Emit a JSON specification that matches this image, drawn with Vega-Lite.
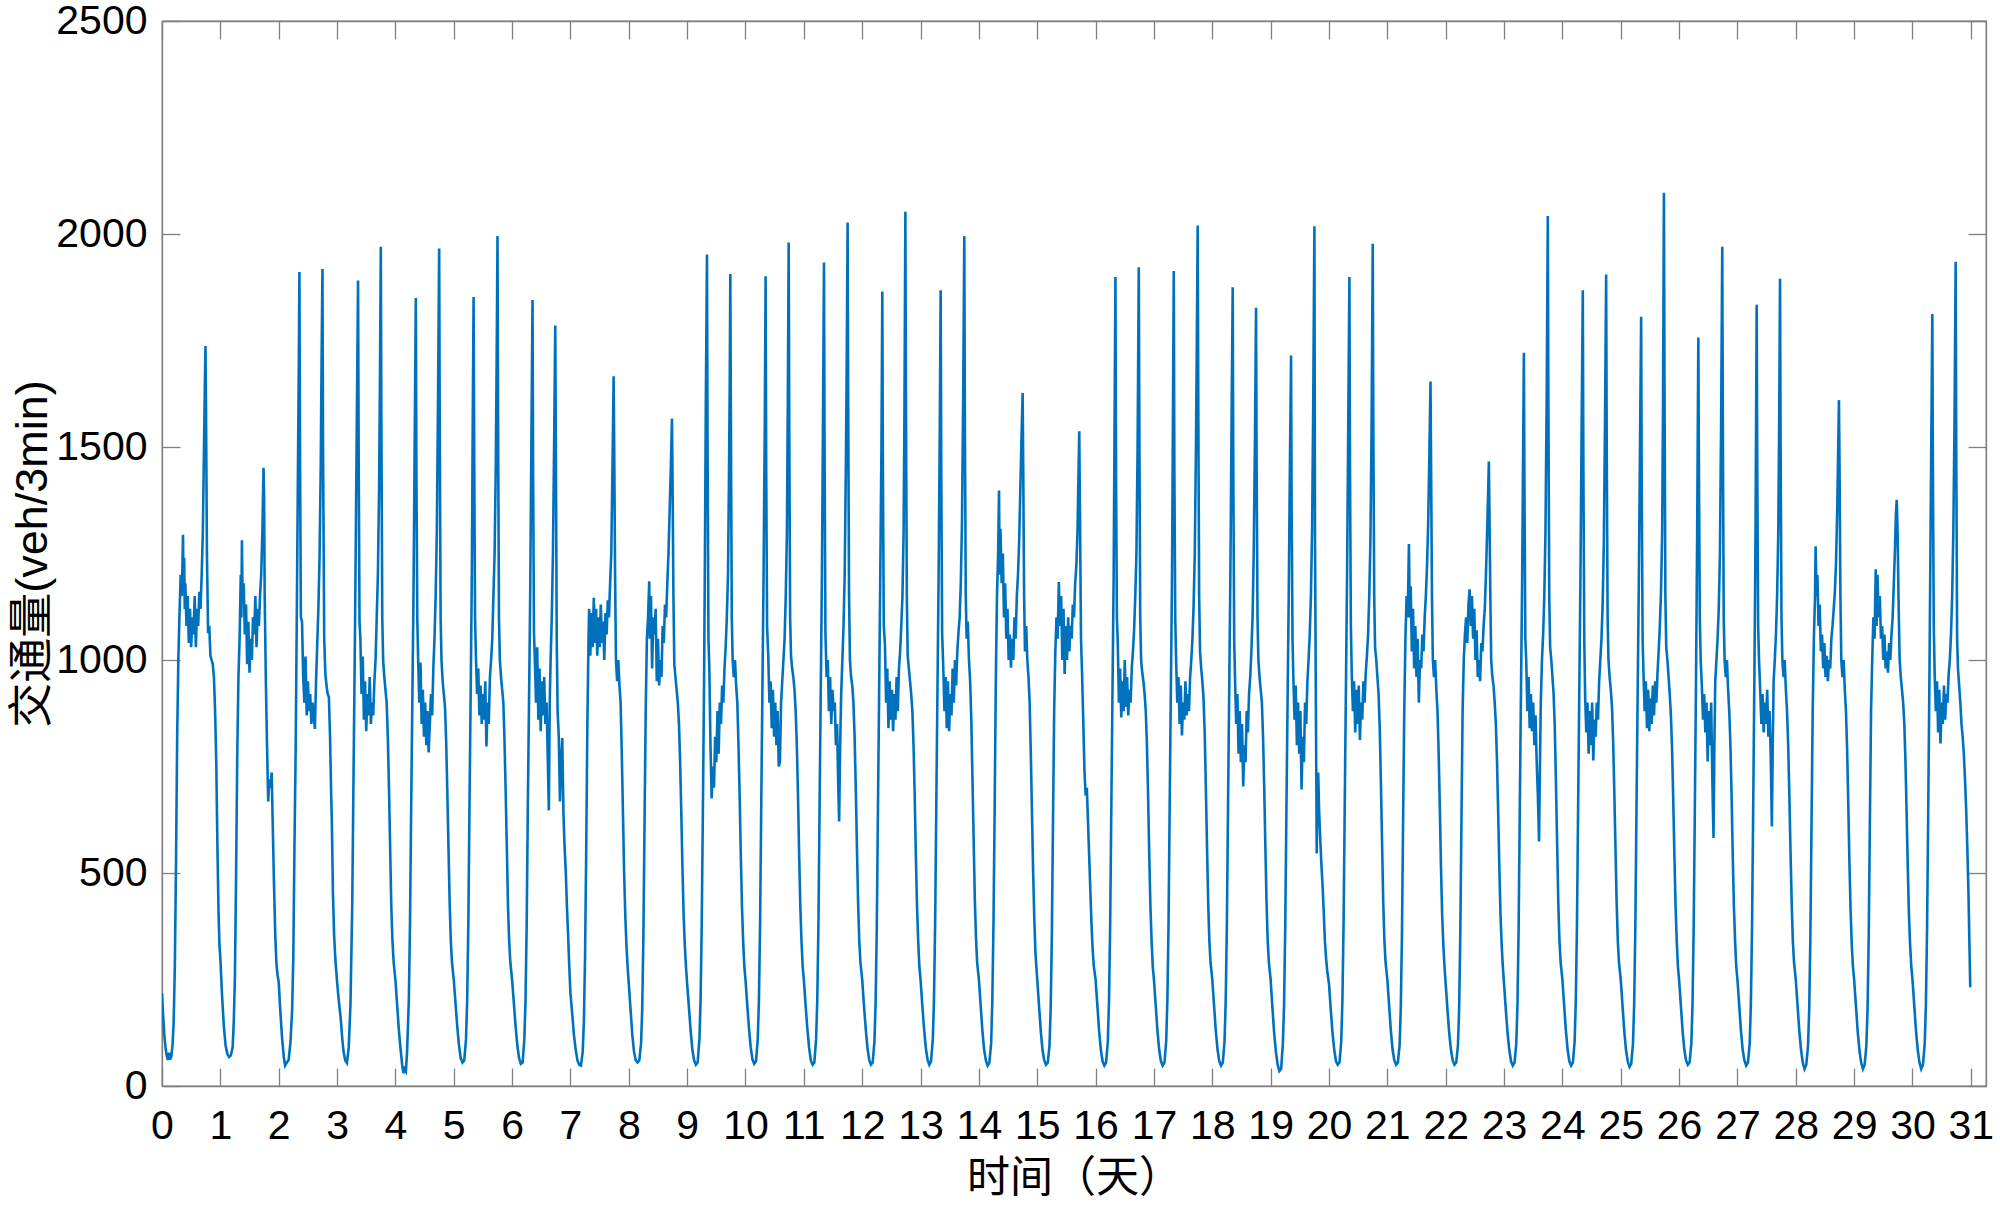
{
"$schema":"https://vega.github.io/schema/vega-lite/v6.json",
"width":1824,"height":1065,
"autosize":{"type":"none"},
"padding":{"left":162,"top":21,"right":14,"bottom":120},
"background":"white",
"config":{
"view":{"stroke":"#808080","strokeWidth":1.3},
"axis":{"domainColor":"#808080","domainWidth":1.3,"tickColor":"#808080","tickWidth":1.3,"labelFont":"Liberation Sans","labelFontSize":41,"labelColor":"#000000","titleFont":"Liberation Sans, Noto Sans CJK SC","titleFontSize":43,"titleColor":"#000000","titleFontWeight":"normal","grid":false}
},
"data":{"values":[
{"t":0,"v":218},{"t":0.02,"v":165},{"t":0.04,"v":120},{"t":0.06,"v":90},{"t":0.08,"v":72},{"t":0.1,"v":61},{"t":0.12,"v":78},{"t":0.14,"v":62},{"t":0.16,"v":70},{"t":0.18,"v":95},{"t":0.2,"v":150},{"t":0.22,"v":280},{"t":0.24,"v":520},{"t":0.26,"v":820},{"t":0.28,"v":1000},{"t":0.3,"v":1110},{"t":0.32,"v":1200},{"t":0.34,"v":1150},{"t":0.36,"v":1294},{"t":0.37,"v":1160},{"t":0.38,"v":1240},{"t":0.39,"v":1120},{"t":0.4,"v":1180},{"t":0.42,"v":1080},{"t":0.44,"v":1150},{"t":0.46,"v":1040},{"t":0.48,"v":1120},{"t":0.5,"v":1030},{"t":0.52,"v":1100},{"t":0.54,"v":1060},{"t":0.56,"v":1150},{"t":0.58,"v":1030},{"t":0.6,"v":1120},{"t":0.62,"v":1080},{"t":0.64,"v":1160},{"t":0.66,"v":1120},{"t":0.68,"v":1200},{"t":0.7,"v":1300},{"t":0.72,"v":1500},{"t":0.735,"v":1650},{"t":0.745,"v":1737},{"t":0.755,"v":1580},{"t":0.77,"v":1250},{"t":0.79,"v":1063},{"t":0.81,"v":1080},{"t":0.83,"v":1010},{"t":0.85,"v":1000},{"t":0.87,"v":990},{"t":0.89,"v":960},{"t":0.91,"v":880},{"t":0.93,"v":760},{"t":0.95,"v":560},{"t":0.97,"v":400},{"t":0.985,"v":330},
{"t":1,"v":300},{"t":1.03,"v":210},{"t":1.06,"v":140},{"t":1.09,"v":95},{"t":1.12,"v":75},{"t":1.15,"v":68},{"t":1.18,"v":72},{"t":1.21,"v":90},{"t":1.23,"v":150},{"t":1.25,"v":260},{"t":1.27,"v":500},{"t":1.29,"v":780},{"t":1.31,"v":960},{"t":1.33,"v":1050},{"t":1.35,"v":1200},{"t":1.36,"v":1100},{"t":1.37,"v":1281},{"t":1.38,"v":1150},{"t":1.4,"v":1180},{"t":1.42,"v":1060},{"t":1.44,"v":1130},{"t":1.46,"v":990},{"t":1.48,"v":1090},{"t":1.5,"v":970},{"t":1.52,"v":1050},{"t":1.54,"v":1000},{"t":1.56,"v":1100},{"t":1.58,"v":1060},{"t":1.6,"v":1150},{"t":1.62,"v":1030},{"t":1.64,"v":1120},{"t":1.66,"v":1080},{"t":1.68,"v":1150},{"t":1.7,"v":1200},{"t":1.72,"v":1300},{"t":1.74,"v":1451},{"t":1.75,"v":1380},{"t":1.76,"v":1150},{"t":1.78,"v":950},{"t":1.8,"v":800},{"t":1.82,"v":668},{"t":1.84,"v":720},{"t":1.86,"v":700},{"t":1.88,"v":736},{"t":1.9,"v":600},{"t":1.92,"v":470},{"t":1.94,"v":360},{"t":1.96,"v":290},{"t":1.98,"v":260},
{"t":2,"v":245},{"t":2.03,"v":170},{"t":2.06,"v":109},{"t":2.09,"v":65},{"t":2.11,"v":48},{"t":2.14,"v":55},{"t":2.17,"v":61},{"t":2.2,"v":100},{"t":2.23,"v":177},{"t":2.25,"v":300},{"t":2.27,"v":560},{"t":2.29,"v":780},{"t":2.31,"v":1100},{"t":2.33,"v":1450},{"t":2.345,"v":1700},{"t":2.355,"v":1911},{"t":2.365,"v":1500},{"t":2.38,"v":1100},{"t":2.4,"v":1090},{"t":2.42,"v":960},{"t":2.44,"v":900},{"t":2.46,"v":1008},{"t":2.48,"v":870},{"t":2.5,"v":950},{"t":2.52,"v":880},{"t":2.54,"v":920},{"t":2.56,"v":850},{"t":2.58,"v":900},{"t":2.6,"v":870},{"t":2.62,"v":838},{"t":2.64,"v":950},{"t":2.66,"v":1035},{"t":2.68,"v":1120},{"t":2.7,"v":1240},{"t":2.72,"v":1450},{"t":2.735,"v":1700},{"t":2.75,"v":1918},{"t":2.76,"v":1500},{"t":2.78,"v":1050},{"t":2.8,"v":967},{"t":2.82,"v":940},{"t":2.84,"v":920},{"t":2.86,"v":913},{"t":2.88,"v":820},{"t":2.9,"v":680},{"t":2.91,"v":627},{"t":2.93,"v":450},{"t":2.95,"v":354},{"t":2.97,"v":300},
{"t":3,"v":245},{"t":3.03,"v":200},{"t":3.06,"v":163},{"t":3.09,"v":110},{"t":3.11,"v":82},{"t":3.14,"v":60},{"t":3.17,"v":54},{"t":3.2,"v":90},{"t":3.23,"v":191},{"t":3.26,"v":422},{"t":3.29,"v":831},{"t":3.31,"v":1104},{"t":3.34,"v":1580},{"t":3.36,"v":1891},{"t":3.37,"v":1500},{"t":3.385,"v":1090},{"t":3.4,"v":1050},{"t":3.42,"v":920},{"t":3.44,"v":1008},{"t":3.46,"v":860},{"t":3.48,"v":950},{"t":3.5,"v":833},{"t":3.52,"v":920},{"t":3.54,"v":870},{"t":3.56,"v":960},{"t":3.58,"v":850},{"t":3.6,"v":900},{"t":3.62,"v":870},{"t":3.64,"v":950},{"t":3.66,"v":1000},{"t":3.68,"v":1100},{"t":3.7,"v":1200},{"t":3.72,"v":1400},{"t":3.735,"v":1650},{"t":3.75,"v":1970},{"t":3.76,"v":1550},{"t":3.775,"v":1100},{"t":3.79,"v":1000},{"t":3.81,"v":960},{"t":3.83,"v":930},{"t":3.85,"v":900},{"t":3.87,"v":820},{"t":3.89,"v":700},{"t":3.91,"v":560},{"t":3.93,"v":420},{"t":3.95,"v":340},{"t":3.97,"v":290},
{"t":4,"v":250},{"t":4.03,"v":190},{"t":4.06,"v":130},{"t":4.09,"v":85},{"t":4.12,"v":45},{"t":4.14,"v":30},{"t":4.16,"v":40},{"t":4.18,"v":35},{"t":4.2,"v":80},{"t":4.23,"v":200},{"t":4.25,"v":380},{"t":4.27,"v":650},{"t":4.29,"v":900},{"t":4.31,"v":1150},{"t":4.33,"v":1500},{"t":4.35,"v":1850},{"t":4.36,"v":1450},{"t":4.375,"v":1100},{"t":4.39,"v":1000},{"t":4.41,"v":900},{"t":4.43,"v":994},{"t":4.45,"v":850},{"t":4.47,"v":930},{"t":4.49,"v":820},{"t":4.51,"v":900},{"t":4.53,"v":800},{"t":4.55,"v":880},{"t":4.57,"v":783},{"t":4.59,"v":850},{"t":4.61,"v":920},{"t":4.63,"v":870},{"t":4.65,"v":980},{"t":4.67,"v":1050},{"t":4.69,"v":1150},{"t":4.71,"v":1300},{"t":4.73,"v":1600},{"t":4.75,"v":1966},{"t":4.76,"v":1550},{"t":4.775,"v":1100},{"t":4.79,"v":1000},{"t":4.81,"v":950},{"t":4.83,"v":920},{"t":4.85,"v":890},{"t":4.87,"v":810},{"t":4.89,"v":690},{"t":4.91,"v":560},{"t":4.93,"v":430},{"t":4.95,"v":340},{"t":4.97,"v":290},
{"t":5,"v":250},{"t":5.03,"v":195},{"t":5.06,"v":140},{"t":5.09,"v":95},{"t":5.12,"v":65},{"t":5.15,"v":55},{"t":5.18,"v":60},{"t":5.21,"v":110},{"t":5.23,"v":200},{"t":5.25,"v":380},{"t":5.27,"v":660},{"t":5.29,"v":920},{"t":5.31,"v":1200},{"t":5.325,"v":1550},{"t":5.34,"v":1852},{"t":5.35,"v":1500},{"t":5.365,"v":1100},{"t":5.38,"v":1008},{"t":5.4,"v":920},{"t":5.42,"v":980},{"t":5.44,"v":870},{"t":5.46,"v":940},{"t":5.48,"v":850},{"t":5.5,"v":920},{"t":5.52,"v":860},{"t":5.54,"v":950},{"t":5.56,"v":797},{"t":5.58,"v":900},{"t":5.6,"v":850},{"t":5.62,"v":960},{"t":5.64,"v":1000},{"t":5.66,"v":1050},{"t":5.68,"v":1150},{"t":5.7,"v":1250},{"t":5.72,"v":1450},{"t":5.735,"v":1700},{"t":5.75,"v":1995},{"t":5.76,"v":1550},{"t":5.775,"v":1100},{"t":5.79,"v":1000},{"t":5.81,"v":960},{"t":5.83,"v":930},{"t":5.85,"v":900},{"t":5.87,"v":810},{"t":5.89,"v":690},{"t":5.91,"v":560},{"t":5.93,"v":420},{"t":5.95,"v":340},{"t":5.97,"v":290},
{"t":6,"v":250},{"t":6.03,"v":195},{"t":6.06,"v":140},{"t":6.09,"v":95},{"t":6.12,"v":65},{"t":6.15,"v":52},{"t":6.18,"v":55},{"t":6.21,"v":110},{"t":6.23,"v":200},{"t":6.25,"v":380},{"t":6.27,"v":660},{"t":6.29,"v":900},{"t":6.31,"v":1150},{"t":6.33,"v":1500},{"t":6.35,"v":1845},{"t":6.36,"v":1450},{"t":6.375,"v":1064},{"t":6.39,"v":1000},{"t":6.41,"v":900},{"t":6.43,"v":1030},{"t":6.45,"v":860},{"t":6.47,"v":980},{"t":6.49,"v":833},{"t":6.51,"v":950},{"t":6.53,"v":870},{"t":6.55,"v":960},{"t":6.57,"v":850},{"t":6.59,"v":900},{"t":6.61,"v":780},{"t":6.63,"v":647},{"t":6.645,"v":900},{"t":6.66,"v":1000},{"t":6.68,"v":1100},{"t":6.7,"v":1250},{"t":6.72,"v":1500},{"t":6.74,"v":1785},{"t":6.75,"v":1500},{"t":6.765,"v":1050},{"t":6.78,"v":880},{"t":6.8,"v":820},{"t":6.82,"v":668},{"t":6.84,"v":760},{"t":6.86,"v":817},{"t":6.88,"v":640},{"t":6.9,"v":560},{"t":6.92,"v":504},{"t":6.94,"v":420},{"t":6.96,"v":354},{"t":6.98,"v":280},
{"t":7,"v":218},{"t":7.03,"v":170},{"t":7.06,"v":120},{"t":7.09,"v":85},{"t":7.12,"v":60},{"t":7.15,"v":50},{"t":7.18,"v":48},{"t":7.21,"v":80},{"t":7.23,"v":150},{"t":7.25,"v":300},{"t":7.27,"v":550},{"t":7.29,"v":850},{"t":7.31,"v":1050},{"t":7.32,"v":1120},{"t":7.34,"v":1010},{"t":7.36,"v":1110},{"t":7.38,"v":1030},{"t":7.4,"v":1146},{"t":7.42,"v":1040},{"t":7.44,"v":1120},{"t":7.46,"v":1010},{"t":7.48,"v":1100},{"t":7.5,"v":1030},{"t":7.52,"v":1130},{"t":7.54,"v":1040},{"t":7.56,"v":1090},{"t":7.58,"v":1000},{"t":7.6,"v":1110},{"t":7.62,"v":1060},{"t":7.64,"v":1140},{"t":7.66,"v":1100},{"t":7.68,"v":1180},{"t":7.7,"v":1250},{"t":7.715,"v":1400},{"t":7.73,"v":1550},{"t":7.74,"v":1666},{"t":7.75,"v":1500},{"t":7.765,"v":1200},{"t":7.78,"v":1000},{"t":7.8,"v":950},{"t":7.82,"v":1000},{"t":7.84,"v":940},{"t":7.86,"v":900},{"t":7.88,"v":780},{"t":7.9,"v":640},{"t":7.92,"v":500},{"t":7.94,"v":400},{"t":7.96,"v":330},{"t":7.98,"v":280},
{"t":8,"v":240},{"t":8.03,"v":180},{"t":8.06,"v":120},{"t":8.09,"v":80},{"t":8.12,"v":60},{"t":8.15,"v":55},{"t":8.18,"v":60},{"t":8.21,"v":100},{"t":8.23,"v":180},{"t":8.25,"v":350},{"t":8.27,"v":620},{"t":8.29,"v":880},{"t":8.31,"v":1050},{"t":8.33,"v":1100},{"t":8.35,"v":1185},{"t":8.36,"v":1050},{"t":8.38,"v":1150},{"t":8.4,"v":980},{"t":8.42,"v":1100},{"t":8.44,"v":1060},{"t":8.46,"v":1120},{"t":8.48,"v":950},{"t":8.5,"v":1050},{"t":8.52,"v":940},{"t":8.54,"v":1000},{"t":8.56,"v":960},{"t":8.58,"v":1080},{"t":8.6,"v":1040},{"t":8.62,"v":1130},{"t":8.64,"v":1100},{"t":8.66,"v":1180},{"t":8.68,"v":1250},{"t":8.7,"v":1350},{"t":8.72,"v":1450},{"t":8.74,"v":1567},{"t":8.75,"v":1420},{"t":8.765,"v":1150},{"t":8.78,"v":990},{"t":8.8,"v":960},{"t":8.82,"v":930},{"t":8.84,"v":900},{"t":8.86,"v":850},{"t":8.88,"v":760},{"t":8.9,"v":640},{"t":8.92,"v":510},{"t":8.94,"v":400},{"t":8.96,"v":330},{"t":8.98,"v":280},
{"t":9,"v":240},{"t":9.03,"v":185},{"t":9.06,"v":130},{"t":9.09,"v":85},{"t":9.12,"v":60},{"t":9.15,"v":50},{"t":9.18,"v":55},{"t":9.21,"v":110},{"t":9.23,"v":200},{"t":9.25,"v":380},{"t":9.27,"v":650},{"t":9.29,"v":950},{"t":9.305,"v":1250},{"t":9.32,"v":1600},{"t":9.34,"v":1952},{"t":9.35,"v":1500},{"t":9.365,"v":1050},{"t":9.38,"v":982},{"t":9.4,"v":800},{"t":9.42,"v":675},{"t":9.44,"v":750},{"t":9.46,"v":700},{"t":9.48,"v":820},{"t":9.5,"v":760},{"t":9.52,"v":880},{"t":9.54,"v":780},{"t":9.56,"v":900},{"t":9.58,"v":850},{"t":9.6,"v":940},{"t":9.62,"v":900},{"t":9.64,"v":980},{"t":9.66,"v":1030},{"t":9.68,"v":1100},{"t":9.7,"v":1200},{"t":9.715,"v":1400},{"t":9.73,"v":1650},{"t":9.74,"v":1906},{"t":9.75,"v":1550},{"t":9.765,"v":1100},{"t":9.78,"v":1000},{"t":9.8,"v":960},{"t":9.82,"v":1000},{"t":9.84,"v":940},{"t":9.86,"v":900},{"t":9.88,"v":800},{"t":9.9,"v":680},{"t":9.92,"v":540},{"t":9.94,"v":420},{"t":9.96,"v":340},{"t":9.98,"v":280},
{"t":10,"v":250},{"t":10.03,"v":190},{"t":10.06,"v":135},{"t":10.09,"v":90},{"t":10.12,"v":62},{"t":10.15,"v":52},{"t":10.18,"v":58},{"t":10.21,"v":110},{"t":10.23,"v":200},{"t":10.25,"v":380},{"t":10.27,"v":660},{"t":10.29,"v":930},{"t":10.31,"v":1200},{"t":10.33,"v":1550},{"t":10.345,"v":1901},{"t":10.355,"v":1450},{"t":10.37,"v":1080},{"t":10.39,"v":1010},{"t":10.41,"v":900},{"t":10.43,"v":950},{"t":10.45,"v":840},{"t":10.47,"v":930},{"t":10.49,"v":820},{"t":10.51,"v":900},{"t":10.53,"v":800},{"t":10.55,"v":880},{"t":10.57,"v":750},{"t":10.59,"v":760},{"t":10.61,"v":900},{"t":10.63,"v":950},{"t":10.65,"v":1000},{"t":10.67,"v":1050},{"t":10.69,"v":1150},{"t":10.71,"v":1300},{"t":10.725,"v":1600},{"t":10.74,"v":1980},{"t":10.75,"v":1550},{"t":10.765,"v":1100},{"t":10.78,"v":1010},{"t":10.8,"v":980},{"t":10.82,"v":960},{"t":10.84,"v":930},{"t":10.86,"v":880},{"t":10.88,"v":800},{"t":10.9,"v":680},{"t":10.92,"v":540},{"t":10.94,"v":420},{"t":10.96,"v":340},{"t":10.98,"v":280},
{"t":11,"v":250},{"t":11.03,"v":190},{"t":11.06,"v":135},{"t":11.09,"v":90},{"t":11.12,"v":60},{"t":11.15,"v":50},{"t":11.18,"v":55},{"t":11.21,"v":110},{"t":11.23,"v":200},{"t":11.25,"v":380},{"t":11.27,"v":660},{"t":11.29,"v":930},{"t":11.31,"v":1200},{"t":11.33,"v":1600},{"t":11.345,"v":1933},{"t":11.355,"v":1500},{"t":11.37,"v":1064},{"t":11.39,"v":960},{"t":11.41,"v":1000},{"t":11.43,"v":880},{"t":11.45,"v":960},{"t":11.47,"v":850},{"t":11.49,"v":930},{"t":11.51,"v":880},{"t":11.53,"v":900},{"t":11.55,"v":800},{"t":11.57,"v":850},{"t":11.59,"v":700},{"t":11.605,"v":621},{"t":11.62,"v":780},{"t":11.64,"v":920},{"t":11.66,"v":1000},{"t":11.68,"v":1080},{"t":11.7,"v":1200},{"t":11.72,"v":1450},{"t":11.735,"v":1700},{"t":11.75,"v":2027},{"t":11.76,"v":1600},{"t":11.775,"v":1150},{"t":11.79,"v":1000},{"t":11.81,"v":960},{"t":11.83,"v":940},{"t":11.85,"v":900},{"t":11.87,"v":820},{"t":11.89,"v":700},{"t":11.91,"v":560},{"t":11.93,"v":430},{"t":11.95,"v":340},{"t":11.97,"v":290},
{"t":12,"v":250},{"t":12.03,"v":190},{"t":12.06,"v":135},{"t":12.09,"v":90},{"t":12.12,"v":62},{"t":12.15,"v":50},{"t":12.18,"v":55},{"t":12.21,"v":105},{"t":12.23,"v":195},{"t":12.25,"v":370},{"t":12.27,"v":650},{"t":12.29,"v":920},{"t":12.31,"v":1200},{"t":12.33,"v":1500},{"t":12.345,"v":1865},{"t":12.355,"v":1450},{"t":12.37,"v":1080},{"t":12.39,"v":1037},{"t":12.41,"v":900},{"t":12.43,"v":980},{"t":12.45,"v":840},{"t":12.47,"v":950},{"t":12.49,"v":860},{"t":12.51,"v":930},{"t":12.53,"v":833},{"t":12.55,"v":920},{"t":12.57,"v":860},{"t":12.59,"v":960},{"t":12.61,"v":880},{"t":12.63,"v":980},{"t":12.65,"v":1020},{"t":12.67,"v":1080},{"t":12.69,"v":1150},{"t":12.71,"v":1300},{"t":12.725,"v":1600},{"t":12.74,"v":2052},{"t":12.75,"v":1600},{"t":12.765,"v":1150},{"t":12.78,"v":1010},{"t":12.8,"v":980},{"t":12.82,"v":950},{"t":12.84,"v":920},{"t":12.86,"v":880},{"t":12.88,"v":800},{"t":12.9,"v":680},{"t":12.92,"v":540},{"t":12.94,"v":420},{"t":12.96,"v":340},{"t":12.98,"v":280},
{"t":13,"v":250},{"t":13.03,"v":190},{"t":13.06,"v":135},{"t":13.09,"v":90},{"t":13.12,"v":62},{"t":13.15,"v":50},{"t":13.18,"v":58},{"t":13.21,"v":110},{"t":13.23,"v":200},{"t":13.25,"v":380},{"t":13.27,"v":660},{"t":13.29,"v":930},{"t":13.31,"v":1200},{"t":13.33,"v":1550},{"t":13.345,"v":1868},{"t":13.355,"v":1450},{"t":13.37,"v":1064},{"t":13.39,"v":980},{"t":13.41,"v":880},{"t":13.43,"v":960},{"t":13.45,"v":840},{"t":13.47,"v":950},{"t":13.49,"v":833},{"t":13.51,"v":920},{"t":13.53,"v":870},{"t":13.55,"v":980},{"t":13.57,"v":900},{"t":13.59,"v":1000},{"t":13.61,"v":940},{"t":13.63,"v":1020},{"t":13.65,"v":1064},{"t":13.67,"v":1100},{"t":13.69,"v":1180},{"t":13.71,"v":1320},{"t":13.73,"v":1600},{"t":13.75,"v":1995},{"t":13.76,"v":1550},{"t":13.775,"v":1150},{"t":13.79,"v":1050},{"t":13.81,"v":1090},{"t":13.83,"v":1000},{"t":13.85,"v":950},{"t":13.87,"v":860},{"t":13.89,"v":720},{"t":13.91,"v":580},{"t":13.93,"v":440},{"t":13.95,"v":350},{"t":13.97,"v":290},
{"t":14,"v":250},{"t":14.03,"v":190},{"t":14.06,"v":130},{"t":14.09,"v":85},{"t":14.12,"v":60},{"t":14.15,"v":48},{"t":14.18,"v":55},{"t":14.21,"v":100},{"t":14.23,"v":200},{"t":14.25,"v":380},{"t":14.27,"v":650},{"t":14.29,"v":950},{"t":14.31,"v":1150},{"t":14.33,"v":1250},{"t":14.345,"v":1398},{"t":14.355,"v":1200},{"t":14.37,"v":1308},{"t":14.39,"v":1180},{"t":14.41,"v":1250},{"t":14.43,"v":1100},{"t":14.45,"v":1180},{"t":14.47,"v":1050},{"t":14.49,"v":1120},{"t":14.51,"v":1000},{"t":14.53,"v":1060},{"t":14.55,"v":982},{"t":14.57,"v":1050},{"t":14.59,"v":1000},{"t":14.61,"v":1100},{"t":14.63,"v":1050},{"t":14.65,"v":1150},{"t":14.67,"v":1200},{"t":14.69,"v":1280},{"t":14.71,"v":1400},{"t":14.73,"v":1520},{"t":14.75,"v":1627},{"t":14.76,"v":1450},{"t":14.775,"v":1150},{"t":14.79,"v":1020},{"t":14.81,"v":1080},{"t":14.83,"v":1000},{"t":14.85,"v":960},{"t":14.87,"v":900},{"t":14.89,"v":780},{"t":14.91,"v":640},{"t":14.93,"v":500},{"t":14.95,"v":390},{"t":14.97,"v":310},
{"t":15,"v":250},{"t":15.03,"v":190},{"t":15.06,"v":130},{"t":15.09,"v":85},{"t":15.12,"v":60},{"t":15.15,"v":50},{"t":15.18,"v":55},{"t":15.21,"v":95},{"t":15.23,"v":180},{"t":15.25,"v":350},{"t":15.27,"v":620},{"t":15.29,"v":880},{"t":15.31,"v":1020},{"t":15.33,"v":1100},{"t":15.35,"v":1050},{"t":15.37,"v":1183},{"t":15.39,"v":1080},{"t":15.41,"v":1150},{"t":15.43,"v":1000},{"t":15.45,"v":1120},{"t":15.47,"v":967},{"t":15.49,"v":1080},{"t":15.51,"v":1000},{"t":15.53,"v":1100},{"t":15.55,"v":1020},{"t":15.57,"v":1080},{"t":15.59,"v":1050},{"t":15.61,"v":1130},{"t":15.63,"v":1100},{"t":15.65,"v":1180},{"t":15.67,"v":1220},{"t":15.69,"v":1300},{"t":15.705,"v":1420},{"t":15.72,"v":1537},{"t":15.735,"v":1300},{"t":15.75,"v":1050},{"t":15.77,"v":960},{"t":15.79,"v":850},{"t":15.81,"v":737},{"t":15.83,"v":682},{"t":15.85,"v":700},{"t":15.87,"v":620},{"t":15.89,"v":540},{"t":15.91,"v":460},{"t":15.93,"v":380},{"t":15.95,"v":320},{"t":15.97,"v":280},
{"t":16,"v":250},{"t":16.03,"v":190},{"t":16.06,"v":130},{"t":16.09,"v":85},{"t":16.12,"v":58},{"t":16.15,"v":48},{"t":16.18,"v":55},{"t":16.21,"v":105},{"t":16.23,"v":200},{"t":16.25,"v":380},{"t":16.27,"v":660},{"t":16.29,"v":930},{"t":16.31,"v":1200},{"t":16.325,"v":1550},{"t":16.34,"v":1899},{"t":16.35,"v":1450},{"t":16.365,"v":1100},{"t":16.38,"v":1042},{"t":16.4,"v":900},{"t":16.42,"v":980},{"t":16.44,"v":865},{"t":16.46,"v":950},{"t":16.48,"v":880},{"t":16.5,"v":1000},{"t":16.52,"v":890},{"t":16.54,"v":960},{"t":16.56,"v":870},{"t":16.58,"v":930},{"t":16.6,"v":900},{"t":16.62,"v":980},{"t":16.64,"v":1020},{"t":16.66,"v":1070},{"t":16.68,"v":1150},{"t":16.7,"v":1250},{"t":16.72,"v":1500},{"t":16.73,"v":1700},{"t":16.74,"v":1922},{"t":16.75,"v":1550},{"t":16.765,"v":1100},{"t":16.78,"v":1000},{"t":16.8,"v":970},{"t":16.82,"v":950},{"t":16.84,"v":920},{"t":16.86,"v":880},{"t":16.88,"v":800},{"t":16.9,"v":680},{"t":16.92,"v":540},{"t":16.94,"v":420},{"t":16.96,"v":340},{"t":16.98,"v":280},
{"t":17,"v":250},{"t":17.03,"v":190},{"t":17.06,"v":130},{"t":17.09,"v":85},{"t":17.12,"v":58},{"t":17.15,"v":48},{"t":17.18,"v":55},{"t":17.21,"v":105},{"t":17.23,"v":200},{"t":17.25,"v":380},{"t":17.27,"v":660},{"t":17.29,"v":930},{"t":17.31,"v":1200},{"t":17.325,"v":1550},{"t":17.34,"v":1913},{"t":17.35,"v":1450},{"t":17.365,"v":1100},{"t":17.38,"v":1000},{"t":17.4,"v":900},{"t":17.42,"v":960},{"t":17.44,"v":850},{"t":17.46,"v":940},{"t":17.48,"v":823},{"t":17.5,"v":900},{"t":17.52,"v":860},{"t":17.54,"v":950},{"t":17.56,"v":870},{"t":17.58,"v":920},{"t":17.6,"v":880},{"t":17.62,"v":960},{"t":17.64,"v":1000},{"t":17.66,"v":1050},{"t":17.68,"v":1130},{"t":17.7,"v":1250},{"t":17.72,"v":1500},{"t":17.735,"v":1750},{"t":17.75,"v":2020},{"t":17.76,"v":1600},{"t":17.775,"v":1150},{"t":17.79,"v":1020},{"t":17.81,"v":980},{"t":17.83,"v":950},{"t":17.85,"v":910},{"t":17.87,"v":830},{"t":17.89,"v":700},{"t":17.91,"v":560},{"t":17.93,"v":430},{"t":17.95,"v":340},{"t":17.97,"v":290},
{"t":18,"v":250},{"t":18.03,"v":190},{"t":18.06,"v":130},{"t":18.09,"v":85},{"t":18.12,"v":58},{"t":18.15,"v":48},{"t":18.18,"v":55},{"t":18.21,"v":105},{"t":18.23,"v":200},{"t":18.25,"v":380},{"t":18.27,"v":660},{"t":18.29,"v":930},{"t":18.31,"v":1200},{"t":18.33,"v":1550},{"t":18.35,"v":1875},{"t":18.36,"v":1450},{"t":18.375,"v":1050},{"t":18.39,"v":955},{"t":18.41,"v":850},{"t":18.43,"v":920},{"t":18.45,"v":780},{"t":18.47,"v":880},{"t":18.49,"v":760},{"t":18.51,"v":850},{"t":18.53,"v":703},{"t":18.55,"v":800},{"t":18.57,"v":760},{"t":18.59,"v":880},{"t":18.61,"v":830},{"t":18.63,"v":920},{"t":18.65,"v":960},{"t":18.67,"v":1020},{"t":18.69,"v":1100},{"t":18.71,"v":1250},{"t":18.73,"v":1500},{"t":18.75,"v":1827},{"t":18.76,"v":1450},{"t":18.775,"v":1100},{"t":18.79,"v":1000},{"t":18.81,"v":960},{"t":18.83,"v":930},{"t":18.85,"v":900},{"t":18.87,"v":820},{"t":18.89,"v":700},{"t":18.91,"v":560},{"t":18.93,"v":430},{"t":18.95,"v":340},{"t":18.97,"v":290},
{"t":19,"v":250},{"t":19.03,"v":185},{"t":19.06,"v":125},{"t":19.09,"v":80},{"t":19.12,"v":50},{"t":19.15,"v":35},{"t":19.18,"v":40},{"t":19.21,"v":100},{"t":19.23,"v":190},{"t":19.25,"v":370},{"t":19.27,"v":640},{"t":19.29,"v":900},{"t":19.31,"v":1150},{"t":19.33,"v":1450},{"t":19.35,"v":1715},{"t":19.36,"v":1350},{"t":19.375,"v":1050},{"t":19.39,"v":955},{"t":19.41,"v":860},{"t":19.43,"v":940},{"t":19.45,"v":800},{"t":19.47,"v":900},{"t":19.49,"v":780},{"t":19.51,"v":880},{"t":19.53,"v":696},{"t":19.55,"v":820},{"t":19.57,"v":760},{"t":19.59,"v":900},{"t":19.61,"v":850},{"t":19.63,"v":950},{"t":19.65,"v":1000},{"t":19.67,"v":1060},{"t":19.69,"v":1150},{"t":19.71,"v":1300},{"t":19.73,"v":1600},{"t":19.75,"v":2018},{"t":19.76,"v":1300},{"t":19.775,"v":900},{"t":19.79,"v":546},{"t":19.8,"v":680},{"t":19.815,"v":736},{"t":19.83,"v":650},{"t":19.85,"v":580},{"t":19.87,"v":520},{"t":19.89,"v":470},{"t":19.91,"v":410},{"t":19.93,"v":340},{"t":19.95,"v":300},{"t":19.97,"v":270},
{"t":20,"v":240},{"t":20.03,"v":180},{"t":20.06,"v":125},{"t":20.09,"v":85},{"t":20.12,"v":58},{"t":20.15,"v":50},{"t":20.18,"v":55},{"t":20.21,"v":105},{"t":20.23,"v":200},{"t":20.25,"v":380},{"t":20.27,"v":660},{"t":20.29,"v":930},{"t":20.31,"v":1200},{"t":20.33,"v":1550},{"t":20.35,"v":1899},{"t":20.36,"v":1450},{"t":20.375,"v":1080},{"t":20.39,"v":970},{"t":20.41,"v":880},{"t":20.43,"v":950},{"t":20.45,"v":830},{"t":20.47,"v":930},{"t":20.49,"v":850},{"t":20.51,"v":940},{"t":20.53,"v":812},{"t":20.55,"v":900},{"t":20.57,"v":860},{"t":20.59,"v":950},{"t":20.61,"v":900},{"t":20.63,"v":970},{"t":20.65,"v":1010},{"t":20.67,"v":1060},{"t":20.69,"v":1150},{"t":20.71,"v":1280},{"t":20.73,"v":1550},{"t":20.75,"v":1977},{"t":20.76,"v":1550},{"t":20.775,"v":1150},{"t":20.79,"v":1030},{"t":20.81,"v":1000},{"t":20.83,"v":960},{"t":20.85,"v":920},{"t":20.87,"v":840},{"t":20.89,"v":710},{"t":20.91,"v":570},{"t":20.93,"v":430},{"t":20.95,"v":340},{"t":20.97,"v":290},
{"t":21,"v":250},{"t":21.03,"v":190},{"t":21.06,"v":130},{"t":21.09,"v":85},{"t":21.12,"v":60},{"t":21.15,"v":50},{"t":21.18,"v":55},{"t":21.21,"v":95},{"t":21.23,"v":180},{"t":21.25,"v":350},{"t":21.27,"v":620},{"t":21.29,"v":880},{"t":21.31,"v":1050},{"t":21.33,"v":1150},{"t":21.35,"v":1100},{"t":21.37,"v":1272},{"t":21.385,"v":1100},{"t":21.4,"v":1173},{"t":21.42,"v":1020},{"t":21.44,"v":1120},{"t":21.46,"v":980},{"t":21.48,"v":1080},{"t":21.5,"v":960},{"t":21.52,"v":1050},{"t":21.54,"v":900},{"t":21.56,"v":1000},{"t":21.58,"v":980},{"t":21.6,"v":1060},{"t":21.62,"v":1020},{"t":21.64,"v":1100},{"t":21.66,"v":1150},{"t":21.68,"v":1220},{"t":21.7,"v":1320},{"t":21.72,"v":1480},{"t":21.74,"v":1654},{"t":21.75,"v":1450},{"t":21.765,"v":1150},{"t":21.78,"v":1000},{"t":21.8,"v":960},{"t":21.82,"v":1000},{"t":21.84,"v":930},{"t":21.86,"v":880},{"t":21.88,"v":780},{"t":21.9,"v":650},{"t":21.92,"v":510},{"t":21.94,"v":400},{"t":21.96,"v":330},{"t":21.98,"v":280},
{"t":22,"v":240},{"t":22.03,"v":180},{"t":22.06,"v":125},{"t":22.09,"v":85},{"t":22.12,"v":60},{"t":22.15,"v":50},{"t":22.18,"v":55},{"t":22.21,"v":95},{"t":22.23,"v":180},{"t":22.25,"v":350},{"t":22.27,"v":620},{"t":22.29,"v":880},{"t":22.31,"v":1000},{"t":22.33,"v":1060},{"t":22.35,"v":1100},{"t":22.37,"v":1040},{"t":22.39,"v":1130},{"t":22.41,"v":1166},{"t":22.43,"v":1080},{"t":22.45,"v":1150},{"t":22.47,"v":1050},{"t":22.49,"v":1120},{"t":22.51,"v":1000},{"t":22.53,"v":1070},{"t":22.55,"v":960},{"t":22.57,"v":1000},{"t":22.59,"v":950},{"t":22.61,"v":1040},{"t":22.63,"v":1020},{"t":22.65,"v":1080},{"t":22.67,"v":1120},{"t":22.69,"v":1200},{"t":22.71,"v":1300},{"t":22.725,"v":1380},{"t":22.74,"v":1466},{"t":22.75,"v":1350},{"t":22.765,"v":1150},{"t":22.78,"v":1000},{"t":22.8,"v":960},{"t":22.82,"v":940},{"t":22.84,"v":900},{"t":22.86,"v":850},{"t":22.88,"v":760},{"t":22.9,"v":640},{"t":22.92,"v":510},{"t":22.94,"v":400},{"t":22.96,"v":330},{"t":22.98,"v":280},
{"t":23,"v":240},{"t":23.03,"v":180},{"t":23.06,"v":125},{"t":23.09,"v":85},{"t":23.12,"v":58},{"t":23.15,"v":48},{"t":23.18,"v":55},{"t":23.21,"v":100},{"t":23.23,"v":190},{"t":23.25,"v":370},{"t":23.27,"v":650},{"t":23.29,"v":920},{"t":23.31,"v":1180},{"t":23.325,"v":1450},{"t":23.34,"v":1721},{"t":23.35,"v":1400},{"t":23.365,"v":1050},{"t":23.38,"v":1000},{"t":23.4,"v":880},{"t":23.42,"v":960},{"t":23.44,"v":840},{"t":23.46,"v":920},{"t":23.48,"v":833},{"t":23.5,"v":900},{"t":23.52,"v":800},{"t":23.54,"v":870},{"t":23.56,"v":760},{"t":23.58,"v":680},{"t":23.6,"v":574},{"t":23.615,"v":750},{"t":23.63,"v":900},{"t":23.65,"v":1000},{"t":23.67,"v":1060},{"t":23.69,"v":1150},{"t":23.71,"v":1300},{"t":23.73,"v":1600},{"t":23.75,"v":2042},{"t":23.76,"v":1600},{"t":23.775,"v":1150},{"t":23.79,"v":1030},{"t":23.81,"v":1000},{"t":23.83,"v":960},{"t":23.85,"v":920},{"t":23.87,"v":840},{"t":23.89,"v":710},{"t":23.91,"v":570},{"t":23.93,"v":430},{"t":23.95,"v":340},{"t":23.97,"v":290},
{"t":24,"v":250},{"t":24.03,"v":190},{"t":24.06,"v":130},{"t":24.09,"v":85},{"t":24.12,"v":58},{"t":24.15,"v":48},{"t":24.18,"v":55},{"t":24.21,"v":105},{"t":24.23,"v":200},{"t":24.25,"v":380},{"t":24.27,"v":660},{"t":24.29,"v":930},{"t":24.31,"v":1200},{"t":24.33,"v":1550},{"t":24.35,"v":1868},{"t":24.36,"v":1450},{"t":24.375,"v":1050},{"t":24.39,"v":914},{"t":24.41,"v":830},{"t":24.43,"v":900},{"t":24.45,"v":780},{"t":24.47,"v":880},{"t":24.49,"v":800},{"t":24.51,"v":900},{"t":24.53,"v":764},{"t":24.55,"v":860},{"t":24.57,"v":820},{"t":24.59,"v":900},{"t":24.61,"v":860},{"t":24.63,"v":950},{"t":24.65,"v":1000},{"t":24.67,"v":1050},{"t":24.69,"v":1130},{"t":24.71,"v":1270},{"t":24.73,"v":1550},{"t":24.75,"v":1905},{"t":24.76,"v":1500},{"t":24.775,"v":1100},{"t":24.79,"v":1000},{"t":24.81,"v":960},{"t":24.83,"v":930},{"t":24.85,"v":890},{"t":24.87,"v":810},{"t":24.89,"v":690},{"t":24.91,"v":560},{"t":24.93,"v":430},{"t":24.95,"v":340},{"t":24.97,"v":290},
{"t":25,"v":250},{"t":25.03,"v":190},{"t":25.06,"v":130},{"t":25.09,"v":85},{"t":25.12,"v":58},{"t":25.15,"v":45},{"t":25.18,"v":52},{"t":25.21,"v":100},{"t":25.23,"v":190},{"t":25.25,"v":370},{"t":25.27,"v":650},{"t":25.29,"v":920},{"t":25.31,"v":1180},{"t":25.33,"v":1500},{"t":25.35,"v":1806},{"t":25.36,"v":1400},{"t":25.375,"v":1050},{"t":25.39,"v":969},{"t":25.41,"v":880},{"t":25.43,"v":950},{"t":25.45,"v":840},{"t":25.47,"v":930},{"t":25.49,"v":833},{"t":25.51,"v":910},{"t":25.53,"v":850},{"t":25.55,"v":940},{"t":25.57,"v":870},{"t":25.59,"v":950},{"t":25.61,"v":900},{"t":25.63,"v":969},{"t":25.65,"v":1020},{"t":25.67,"v":1080},{"t":25.69,"v":1160},{"t":25.71,"v":1300},{"t":25.725,"v":1600},{"t":25.74,"v":2097},{"t":25.75,"v":1650},{"t":25.765,"v":1150},{"t":25.78,"v":1030},{"t":25.8,"v":1000},{"t":25.82,"v":960},{"t":25.84,"v":920},{"t":25.86,"v":870},{"t":25.88,"v":790},{"t":25.9,"v":670},{"t":25.92,"v":540},{"t":25.94,"v":420},{"t":25.96,"v":340},{"t":25.98,"v":280},
{"t":26,"v":250},{"t":26.03,"v":190},{"t":26.06,"v":130},{"t":26.09,"v":85},{"t":26.12,"v":60},{"t":26.15,"v":50},{"t":26.18,"v":55},{"t":26.21,"v":100},{"t":26.23,"v":190},{"t":26.25,"v":370},{"t":26.27,"v":650},{"t":26.29,"v":950},{"t":26.31,"v":1300},{"t":26.33,"v":1757},{"t":26.34,"v":1450},{"t":26.355,"v":1100},{"t":26.37,"v":1000},{"t":26.39,"v":940},{"t":26.41,"v":860},{"t":26.43,"v":920},{"t":26.45,"v":830},{"t":26.47,"v":900},{"t":26.49,"v":762},{"t":26.51,"v":880},{"t":26.53,"v":800},{"t":26.55,"v":900},{"t":26.57,"v":720},{"t":26.59,"v":582},{"t":26.605,"v":800},{"t":26.62,"v":950},{"t":26.64,"v":1000},{"t":26.66,"v":1050},{"t":26.68,"v":1120},{"t":26.7,"v":1250},{"t":26.72,"v":1550},{"t":26.74,"v":1970},{"t":26.75,"v":1550},{"t":26.765,"v":1100},{"t":26.78,"v":1000},{"t":26.8,"v":960},{"t":26.82,"v":1000},{"t":26.84,"v":930},{"t":26.86,"v":880},{"t":26.88,"v":800},{"t":26.9,"v":680},{"t":26.92,"v":540},{"t":26.94,"v":420},{"t":26.96,"v":340},{"t":26.98,"v":280},
{"t":27,"v":250},{"t":27.03,"v":190},{"t":27.06,"v":130},{"t":27.09,"v":85},{"t":27.12,"v":60},{"t":27.15,"v":48},{"t":27.18,"v":55},{"t":27.21,"v":100},{"t":27.23,"v":190},{"t":27.25,"v":370},{"t":27.27,"v":650},{"t":27.29,"v":950},{"t":27.31,"v":1300},{"t":27.33,"v":1834},{"t":27.34,"v":1450},{"t":27.355,"v":1080},{"t":27.37,"v":1000},{"t":27.39,"v":930},{"t":27.41,"v":850},{"t":27.43,"v":920},{"t":27.45,"v":830},{"t":27.47,"v":900},{"t":27.49,"v":850},{"t":27.51,"v":930},{"t":27.53,"v":820},{"t":27.55,"v":880},{"t":27.57,"v":780},{"t":27.59,"v":609},{"t":27.605,"v":800},{"t":27.62,"v":950},{"t":27.64,"v":1000},{"t":27.66,"v":1060},{"t":27.68,"v":1150},{"t":27.7,"v":1300},{"t":27.715,"v":1550},{"t":27.73,"v":1895},{"t":27.74,"v":1500},{"t":27.755,"v":1100},{"t":27.77,"v":1000},{"t":27.79,"v":960},{"t":27.81,"v":1000},{"t":27.83,"v":930},{"t":27.85,"v":880},{"t":27.87,"v":800},{"t":27.89,"v":680},{"t":27.91,"v":550},{"t":27.93,"v":430},{"t":27.95,"v":340},{"t":27.97,"v":290},
{"t":28,"v":250},{"t":28.03,"v":190},{"t":28.06,"v":130},{"t":28.09,"v":85},{"t":28.12,"v":55},{"t":28.15,"v":40},{"t":28.18,"v":50},{"t":28.21,"v":95},{"t":28.23,"v":180},{"t":28.25,"v":350},{"t":28.27,"v":620},{"t":28.29,"v":880},{"t":28.31,"v":1050},{"t":28.33,"v":1150},{"t":28.34,"v":1267},{"t":28.355,"v":1150},{"t":28.37,"v":1200},{"t":28.39,"v":1080},{"t":28.41,"v":1130},{"t":28.43,"v":1020},{"t":28.45,"v":1060},{"t":28.47,"v":980},{"t":28.49,"v":1040},{"t":28.51,"v":960},{"t":28.53,"v":1010},{"t":28.55,"v":950},{"t":28.57,"v":1000},{"t":28.59,"v":980},{"t":28.61,"v":1050},{"t":28.63,"v":1080},{"t":28.65,"v":1120},{"t":28.67,"v":1160},{"t":28.69,"v":1230},{"t":28.71,"v":1350},{"t":28.725,"v":1480},{"t":28.74,"v":1610},{"t":28.75,"v":1450},{"t":28.765,"v":1150},{"t":28.78,"v":1000},{"t":28.8,"v":960},{"t":28.82,"v":1000},{"t":28.84,"v":930},{"t":28.86,"v":880},{"t":28.88,"v":790},{"t":28.9,"v":660},{"t":28.92,"v":520},{"t":28.94,"v":410},{"t":28.96,"v":330},{"t":28.98,"v":280},
{"t":29,"v":250},{"t":29.03,"v":190},{"t":29.06,"v":130},{"t":29.09,"v":85},{"t":29.12,"v":55},{"t":29.15,"v":40},{"t":29.18,"v":50},{"t":29.21,"v":95},{"t":29.23,"v":180},{"t":29.25,"v":350},{"t":29.27,"v":620},{"t":29.29,"v":880},{"t":29.31,"v":1000},{"t":29.33,"v":1100},{"t":29.35,"v":1050},{"t":29.37,"v":1213},{"t":29.385,"v":1080},{"t":29.4,"v":1200},{"t":29.42,"v":1100},{"t":29.44,"v":1150},{"t":29.46,"v":1050},{"t":29.48,"v":1080},{"t":29.5,"v":1000},{"t":29.52,"v":1060},{"t":29.54,"v":980},{"t":29.56,"v":1020},{"t":29.58,"v":970},{"t":29.6,"v":1040},{"t":29.62,"v":1000},{"t":29.64,"v":1060},{"t":29.66,"v":1100},{"t":29.68,"v":1180},{"t":29.7,"v":1260},{"t":29.715,"v":1340},{"t":29.73,"v":1376},{"t":29.745,"v":1300},{"t":29.76,"v":1150},{"t":29.78,"v":1000},{"t":29.8,"v":960},{"t":29.82,"v":930},{"t":29.84,"v":900},{"t":29.86,"v":850},{"t":29.88,"v":760},{"t":29.9,"v":640},{"t":29.92,"v":510},{"t":29.94,"v":400},{"t":29.96,"v":330},{"t":29.98,"v":280},
{"t":30,"v":250},{"t":30.03,"v":190},{"t":30.06,"v":130},{"t":30.09,"v":85},{"t":30.12,"v":55},{"t":30.15,"v":40},{"t":30.18,"v":50},{"t":30.21,"v":100},{"t":30.23,"v":190},{"t":30.25,"v":370},{"t":30.27,"v":650},{"t":30.29,"v":950},{"t":30.31,"v":1300},{"t":30.34,"v":1812},{"t":30.35,"v":1450},{"t":30.365,"v":1080},{"t":30.38,"v":967},{"t":30.4,"v":880},{"t":30.42,"v":950},{"t":30.44,"v":830},{"t":30.46,"v":930},{"t":30.48,"v":804},{"t":30.5,"v":900},{"t":30.52,"v":850},{"t":30.54,"v":940},{"t":30.56,"v":860},{"t":30.58,"v":920},{"t":30.6,"v":900},{"t":30.62,"v":967},{"t":30.64,"v":1000},{"t":30.66,"v":1060},{"t":30.68,"v":1150},{"t":30.7,"v":1300},{"t":30.72,"v":1550},{"t":30.74,"v":1935},{"t":30.75,"v":1500},{"t":30.765,"v":1050},{"t":30.78,"v":980},{"t":30.8,"v":940},{"t":30.82,"v":900},{"t":30.84,"v":850},{"t":30.86,"v":820},{"t":30.88,"v":780},{"t":30.9,"v":720},{"t":30.92,"v":650},{"t":30.94,"v":560},{"t":30.96,"v":450},{"t":30.975,"v":340},{"t":30.99,"v":232}
]},
"layer":[
{"mark":{"type":"line","color":"#0072BD","strokeWidth":2.6,"clip":true},
"encoding":{
"x":{"field":"t","type":"quantitative","scale":{"domain":[0,31.26],"nice":false,"zero":false},
"axis":{"orient":"bottom","values":[0,1,2,3,4,5,6,7,8,9,10,11,12,13,14,15,16,17,18,19,20,21,22,23,24,25,26,27,28,29,30,31],"format":"d","tickSize":-18,"labelPadding":38,"labelFlush":false,"labelOverlap":false,"labelBound":false,"title":"时间（天）","titleY":92,"titleBaseline":"middle"}},
"y":{"field":"v","type":"quantitative","scale":{"domain":[0,2500],"nice":false},
"axis":{"orient":"left","values":[0,500,1000,1500,2000,2500],"format":"d","tickSize":-18,"labelPadding":33,"labelFlush":false,"labelOverlap":false,"title":"交通量(veh/3min)","titleX":-130,"titleBaseline":"middle","titleFontSize":45}}
}},
{"mark":{"type":"line","opacity":0},
"encoding":{
"x":{"field":"t","type":"quantitative","axis":{"orient":"top","values":[0,1,2,3,4,5,6,7,8,9,10,11,12,13,14,15,16,17,18,19,20,21,22,23,24,25,26,27,28,29,30,31],"tickSize":-18,"labels":false,"title":null}},
"y":{"field":"v","type":"quantitative","axis":{"orient":"right","values":[0,500,1000,1500,2000,2500],"tickSize":-18,"labels":false,"title":null}}
}}
]
}
